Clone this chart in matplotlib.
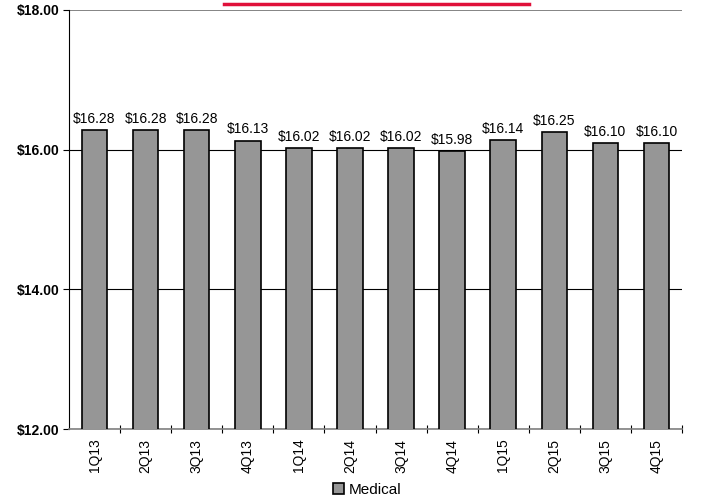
import matplotlib.pyplot as plt
import numpy as np
from matplotlib.lines import Line2D

plt.rcParams['font.family'] = ['Liberation Sans', 'DejaVu Sans']

quarters = ['1Q13', '2Q13', '3Q13', '4Q13', '1Q14', '2Q14',
            '3Q14', '4Q14', '1Q15', '2Q15', '3Q15', '4Q15']
medical = [16.28, 16.28, 16.28, 16.13, 16.02, 16.02,
           16.02, 15.98, 16.14, 16.25, 16.10, 16.10]

fig = plt.figure(figsize=(7.02, 4.99), dpi=100)
ax = fig.add_axes([69/702, 1-429/499, (682-69)/702, (429-10)/499])

x = np.arange(len(quarters))
bars = ax.bar(x, medical, width=0.5, color='#969696', edgecolor='black',
              linewidth=1.2, label='Medical', zorder=3)

# labels above each bar
for xi, v in zip(x, medical):
    ax.annotate('${:.2f}'.format(v), (xi, v), xytext=(0, 3),
                textcoords='offset points', ha='center', va='bottom',
                fontsize=10)

ax.set_xlim(-0.5, len(quarters) - 0.5)
ax.set_ylim(12, 18)
ax.set_yticks([12, 14, 16, 18])
ax.set_yticklabels(['$12.00', '$14.00', '$16.00', '$18.00'],
                   fontsize=10, fontweight='bold')
ax.yaxis.grid(True, color='black', linewidth=0.8, zorder=0)
ax.set_axisbelow(True)
# top gridline looks grey in the original
ax.get_ygridlines()[-1].set_color('#707070')
ax.get_ygridlines()[-1].set_linewidth(1.2)

# category ticks between bars, labels under bars
ax.set_xticks(x + 0.5)
ax.set_xticks(x, minor=True)
ax.set_xticklabels([])
ax.set_xticklabels(quarters, minor=True, rotation=90, fontsize=10)
ax.tick_params(axis='x', which='major', direction='inout', length=6,
               color='black', width=0.8)
ax.tick_params(axis='x', which='minor', length=0, pad=7)
ax.tick_params(axis='y', direction='out', length=4, width=0.8, pad=3)

ax.spines['top'].set_visible(False)
ax.spines['right'].set_visible(False)
ax.spines['left'].set_color('black')
ax.spines['bottom'].set_color('#808080')
ax.spines['bottom'].set_linewidth(1.2)

# red accent line above the plot
fig.add_artist(Line2D([224/702, 529/702], [1-4/499, 1-4/499],
                      color='#e0103a', linewidth=2.5))

fig.legend(handles=[bars], labels=['Medical'], loc='center',
           bbox_to_anchor=(367/702, 1-490/499), frameon=False,
           fontsize=11, handlelength=0.7, handleheight=0.7,
           handletextpad=0.3)

fig.savefig('out.png', dpi=100)
